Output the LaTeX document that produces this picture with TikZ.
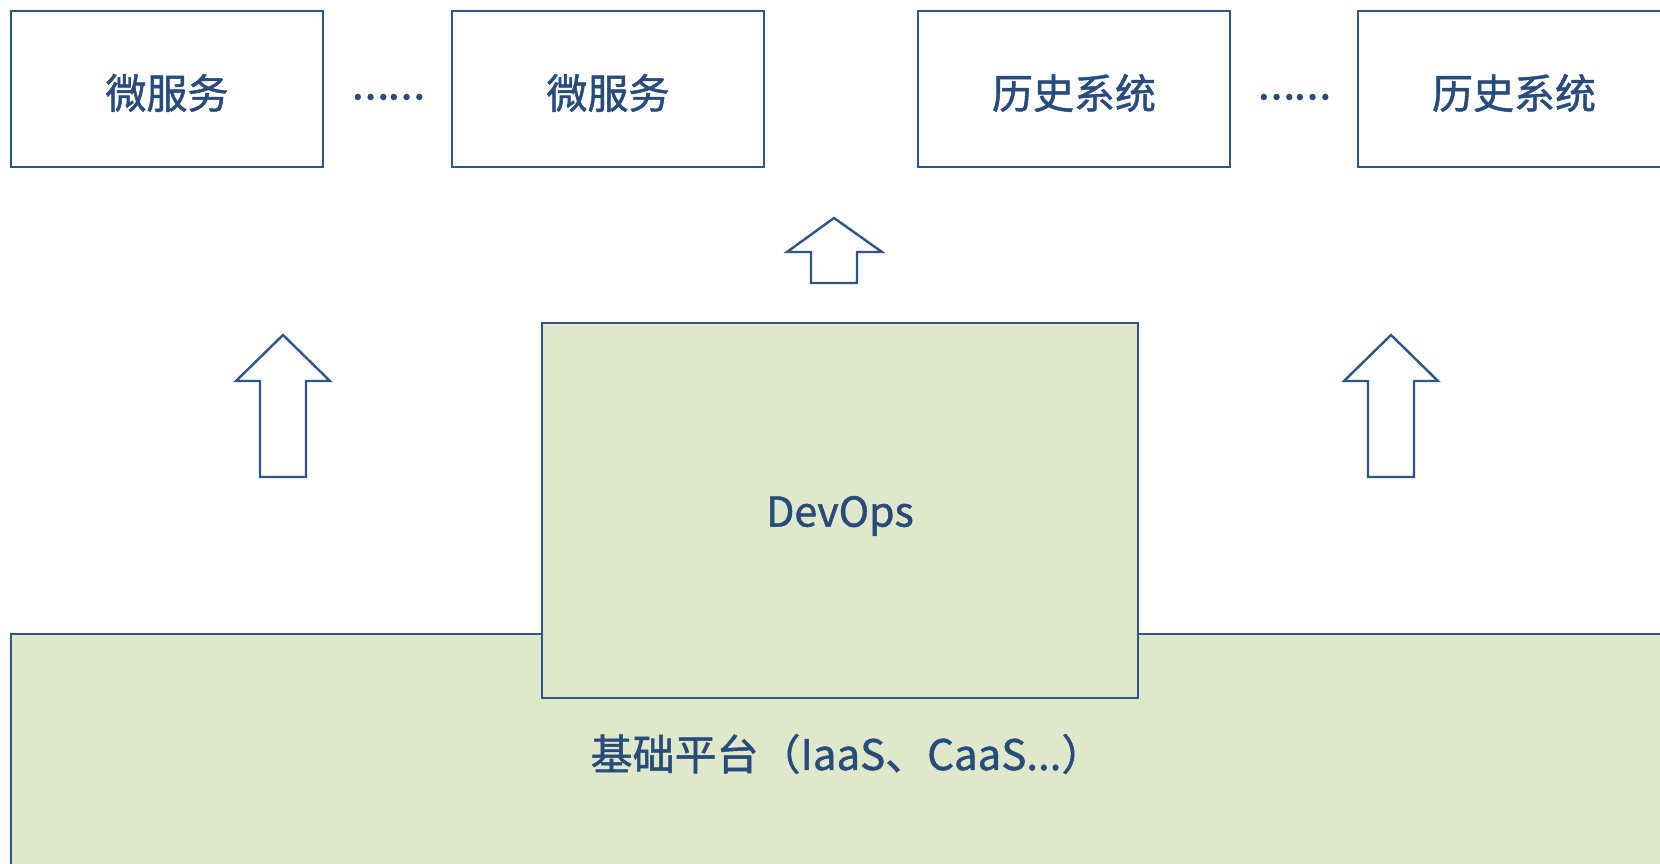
\documentclass[tikz,border=0pt]{standalone}
\usepackage{fontspec}
\newfontfamily\cjk[FakeBold=1.2]{Noto Sans CJK SC}
\newfontfamily\cjkdots[FakeBold=5]{Noto Sans CJK SC}
\definecolor{edge}{HTML}{2E5583}
\definecolor{ink}{HTML}{274B7A}
\definecolor{leaf}{HTML}{DFE8CB}
\tikzset{
  sysbox/.style={draw=edge, line width=1.2pt, fill=white, minimum width=156pt, minimum height=78pt, inner sep=0pt},
  greenbox/.style={draw=edge, line width=1.2pt, fill=leaf, inner sep=0pt},
  label/.style={text=ink, font=\cjk\fontsize{20.5}{24}\selectfont, inner sep=0pt},
  baselabelstyle/.style={text=ink, font=\cjk\fontsize{21}{24}\selectfont, inner sep=0pt},
  dots/.style={text=ink, font=\cjkdots\fontsize{17}{20}\selectfont, inner sep=0pt},
  blockarrow/.style={draw=edge, line width=1.2pt, fill=white, line join=miter}
}
\begin{document}
\begin{tikzpicture}[x=0.5pt,y=-0.5pt]
\useasboundingbox (0,0) rectangle (1660,863);
\clip (0,0) rectangle (1660,863);
% base platform
\node[greenbox, minimum width=850pt, minimum height=140pt] (base) at (861,774) {};
\node[baselabelstyle] (baselabel) at (847,754) {基础平台（IaaS、CaaS...）};
% DevOps
\node[greenbox, minimum width=298pt, minimum height=187.5pt] (devops) at (840,510.5) {};
\node[label] (devopslabel) at (840,516) {DevOps};
% top boxes
\node[sysbox] (ms1) at (167,89) {};
\node[label] at ([yshift=-2pt]ms1.center) {微服务};
\node[sysbox] (ms2) at (608,89) {};
\node[label] at ([yshift=-2pt]ms2.center) {微服务};
\node[sysbox] (ls1) at (1074,89) {};
\node[label] at ([yshift=-2pt]ls1.center) {历史系统};
\node[sysbox] (ls2) at (1514,89) {};
\node[label] at ([yshift=-2pt]ls2.center) {历史系统};
\node[dots] (d1) at (388,97) {……};
\node[dots] (d2) at (1294,97) {……};
% block arrows
\draw[blockarrow] (834,218) -- (882,252) -- (857,252) -- (857,283) -- (811,283) -- (811,252) -- (787,252) -- cycle;
\draw[blockarrow] (283,335) -- (330,381) -- (306,381) -- (306,477) -- (260,477) -- (260,381) -- (236,381) -- cycle;
\draw[blockarrow] (1391,335) -- (1438,381) -- (1414,381) -- (1414,477) -- (1368,477) -- (1368,381) -- (1344,381) -- cycle;
\end{tikzpicture}
\end{document}
